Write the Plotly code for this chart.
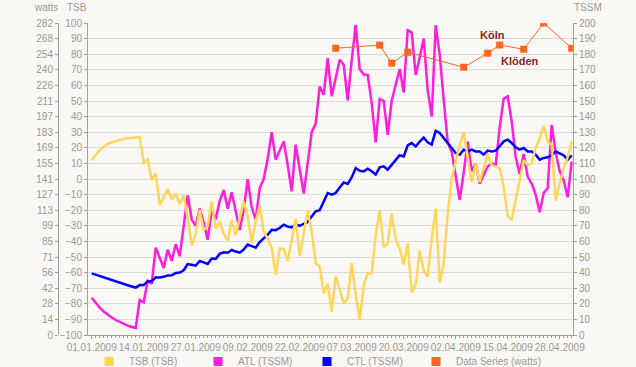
import plotly.graph_objects as go
import pandas as pd

# ---------------- data ----------------
start_date = "2009-01-01"
n_days = 121
dates = pd.date_range(start_date, periods=n_days, freq="D")

tsb = [12, 15.5, 18.5, 20.8, 22.5, 23.6, 24.5, 25.2, 25.8, 26.2, 26.5, 26.7, 26.8,
       10.5, 12.5, -0.6, 3.6, -16.7, -11.5, -6.5, -13, -9.5, -16, -10.5,
       -25, -42.5, -34.8, -19.9, -32.7, -30, -14.6, -31.6, -27.4, -35, -39.6,
       -26.3, -35.9, -26, -14.6, -24, -41, -27, -17.5, -34, -38,
       -44, -61.5, -44.4, -45, -52.5, -38, -25.5, -49.5, -33.5, -20,
       -33.6, -54, -56, -73.2, -67.2, -85, -62.5, -70.5, -79.6, -76.4,
       -54, -74, -90.6, -68, -60.4, -60.4, -36, -20.2, -43.7, -41.5,
       -22.3, -38.9, -44.7, -54.9, -41, -72.8, -67.5, -46, -58.8, -62.5,
       -38, -19, -66.4, -54, -22, 0, 11, 22, 30, 14,
       -2, 10, -2, 7, 16, 9, 8, 7, -5, -24,
       -26, -14, 0, 12, 9, 10, 20, 26, 34, 24,
       22, -14, -3, 7, 14, 24]

atl = [23.9, 20.5, 17.6, 15.1, 13, 11.2, 9.6, 8.3, 7.1, 6, 5.1, 4.5,
       22.4, 21, 34.8, 32.8, 56, 50, 43, 54.7, 47.5, 58.2, 50.5, 70,
       89.5, 74, 70, 81, 72, 61, 80, 74, 86, 93, 81,
       91.5, 80, 67.3, 80, 99.9, 82, 74, 94.2, 100, 113,
       130, 112.4, 118, 124.1, 109, 92.1, 122, 106, 90.6, 110,
       130, 135.5, 159.3, 154, 177.5, 153, 164, 176.4, 173.2, 150.4,
       176, 198.8, 170.5, 167, 166.7, 149, 123.5, 151.3, 150, 128.3,
       150.2, 160, 170.5, 155.5, 195.4, 194, 166.7, 178, 190, 157,
       140, 198.6, 179.6, 151, 123.5, 117.5, 101.5, 86.6, 104, 124,
       105, 110, 97, 103, 108, 110, 109, 133, 151.5, 153,
       137, 114, 103, 116, 101.6, 97, 90, 78.7, 91, 94,
       134.7, 117, 105, 99, 88.3, 111.2]

ctl = [39.5, 38.6, 37.8, 36.9, 36.1, 35.2, 34.4, 33.6, 32.7, 31.9, 31.1, 30.4,
       32, 32, 34.5, 34.5, 37, 36.8, 37.3, 38.2, 38.3, 39.7, 40, 41.5,
       45.5, 44.8, 44.5, 47.5, 46.5, 45.5, 49, 48.8, 52, 53, 52.7,
       54.5, 53.5, 52.8, 54.8, 58, 57, 56, 59.6, 61.8, 64.3,
       67.4, 67.2, 68.6, 70.7, 69.5, 69, 70.7, 70, 71.2, 72.4,
       76, 79.3, 80, 85, 91, 89.9, 91, 94.6, 97.8, 96.8,
       101, 107, 105.3, 104.9, 106.6, 105, 102.8, 107.5, 108.1, 106,
       109.2, 112.4, 115.2, 114.5, 121.5, 123, 120.8, 124, 126.5, 123.5,
       122, 130.9, 129.5, 126.3, 123.1, 119.9, 116.7, 115.6, 118.8, 117.7,
       118.8, 117.7, 117.7, 115.6, 118.2, 117.7, 118.2, 121, 124.1, 125.2,
       123.1, 120.3, 118.8, 119.9, 117.7, 117.7, 115.6, 112.4, 113.5, 113.9,
       115.2, 117.7, 116.7, 115.2, 112.4, 115.2]

race_dates = ["2009-03-03", "2009-03-14", "2009-03-17", "2009-03-21", "2009-04-04",
              "2009-04-10", "2009-04-13", "2009-04-19", "2009-04-24", "2009-05-01"]
race_watts = [259.2, 262, 245.7, 255.6, 242, 254.7, 262.1, 258.3, 282, 259.2]

x_tick_dates = ["2009-01-01", "2009-01-14", "2009-01-27", "2009-02-09", "2009-02-22",
                "2009-03-07", "2009-03-20", "2009-04-02", "2009-04-15", "2009-04-28"]
tsb_ticks = list(range(-100, 101, 10))
tssm_ticks = list(range(0, 201, 10))
watts_max = 282
watts_labels = ["0", "14", "28", "42", "56", "71", "85", "99", "113", "127", "141",
                "155", "169", "183", "197", "211", "226", "240", "254", "268", "282"]

annot_labels = ["Köln", "Klöden"]
annot_days = [100.1, 107.2]
annot_watts = [271.6, 248.1]

# ---------------- style ----------------
BG = "#F9F8F5"
GRID = "#DCDCDC"
AX = "#A0A0A0"
TXT = "#999999"
FONT = "Liberation Sans Narrow, Liberation Sans, Arial, sans-serif"
C_TSB = "#FFD65C"
C_ATL = "#FF1EDC"
C_CTL = "#0000FF"
C_RACE = "#FF6622"

fig = go.Figure()
fig.add_trace(go.Scatter(x=dates, y=tsb, yaxis="y2", mode="lines",
                         line=dict(color=C_TSB, width=2.5), showlegend=False))
fig.add_trace(go.Scatter(x=dates, y=atl, yaxis="y", mode="lines",
                         line=dict(color=C_ATL, width=2.5), showlegend=False))
fig.add_trace(go.Scatter(x=dates, y=ctl, yaxis="y", mode="lines",
                         line=dict(color=C_CTL, width=2.5), showlegend=False))
fig.add_trace(go.Scatter(x=pd.to_datetime(race_dates), y=race_watts, yaxis="y3",
                         mode="lines+markers", line=dict(color=C_RACE, width=1),
                         marker=dict(symbol="square", size=7, color=C_RACE),
                         showlegend=False))

legend_items = [("TSB (TSB)", C_TSB), ("ATL (TSSM)", C_ATL),
                ("CTL (TSSM)", C_CTL), ("Data Series (watts)", C_RACE)]
for i, (name, col) in enumerate(legend_items):
    extra = dict(legendwidth=110) if i == len(legend_items) - 1 else {}
    fig.add_trace(go.Scatter(x=[None], y=[None], mode="markers", name=name,
                             marker=dict(symbol="square", size=9, color=col),
                             **extra))

W, H = 636, 367
L = 58                  # watts axis line
T = 23                  # top of plot
R = W - 573             # right axis
B = H - 335             # bottom of plot
pw = W - L - R
ph = H - T - B

def px_x(p):
    return (p - L) / pw

def px_y(p):
    return (H - B - p) / ph

t0 = pd.Timestamp(start_date)
x_range = [t0 - pd.Timedelta(hours=22.2), t0 + pd.Timedelta(days=120.33)]

tickfont = dict(family=FONT, size=10, color=TXT)
axis_common = dict(showline=True, linecolor=AX, linewidth=1, ticks="outside",
                   tickcolor=AX, zeroline=False, tickfont=tickfont)

fig.update_layout(
    width=W, height=H,
    margin=dict(l=L, r=R, t=T, b=B, autoexpand=False),
    paper_bgcolor=BG, plot_bgcolor=BG,
    font=dict(family=FONT, size=10, color=TXT),
    legend=dict(orientation="h", x=px_x(89), y=px_y(361.5), xanchor="left",
                yanchor="middle", entrywidth=64, entrywidthmode="pixels",
                font=dict(family=FONT, size=10, color=TXT),
                bgcolor="rgba(0,0,0,0)"),
    xaxis=dict(type="date", domain=[px_x(88), 1], range=x_range,
               tickvals=x_tick_dates, tickformat="%d.%m.%Y", tickangle=0,
               showgrid=False, anchor="y", ticklen=3,
               minor=dict(tick0=start_date, dtick=86400000, ticks="outside",
                          ticklen=2, tickcolor=AX, showgrid=False),
               **axis_common),
    yaxis=dict(range=[0, 200], tickvals=tssm_ticks, side="right", anchor="x",
               showgrid=True, gridcolor=GRID, gridwidth=1, ticklen=3,
               **axis_common),
    yaxis2=dict(range=[-100, 100], tickvals=tsb_ticks, side="left",
                overlaying="y", anchor="x", showgrid=False, ticklen=3,
                **axis_common),
    yaxis3=dict(range=[0, watts_max],
                tickvals=[watts_max * i / 20 for i in range(21)],
                ticktext=watts_labels, side="left", overlaying="y",
                anchor="free", position=0, showgrid=False, ticklen=3,
                **axis_common),
)

for txt, xc in [("watts", 46), ("TSB", 77), ("TSSM", 588)]:
    fig.add_annotation(text=txt, xref="paper", yref="paper", x=px_x(xc), y=px_y(8),
                       showarrow=False, xanchor="center", yanchor="middle",
                       font=dict(family=FONT, size=10, color=TXT))

for txt, d, w in zip(annot_labels, annot_days, annot_watts):
    fig.add_annotation(text="<b>%s</b>" % txt, xref="x", yref="y3",
                       x=t0 + pd.Timedelta(days=d), y=w, showarrow=False,
                       xanchor="center", yanchor="middle",
                       font=dict(family="Liberation Sans, Arial, sans-serif",
                                 size=11, color="#8B2525"))

# remove the browser's default 8px body margin so the figure fills the window
fig.write_html("out.html",
               config={"displayModeBar": False},
               post_script="document.body.style.margin='0';"
                           "document.documentElement.style.overflow='hidden';")
